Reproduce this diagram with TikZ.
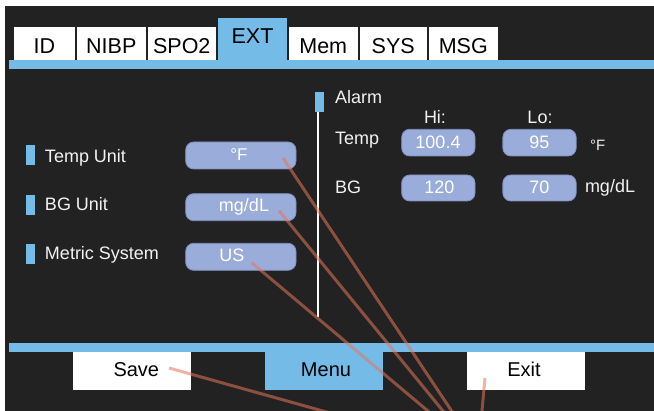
\documentclass[tikz,border=0pt]{standalone}
\usepackage{fontspec}
\setmainfont{Liberation Sans}
\usetikzlibrary{calc}
\definecolor{panel}{HTML}{222222}
\definecolor{accent}{HTML}{74BBE7}
\definecolor{pillfill}{HTML}{9AACD9}
\definecolor{pilledge}{HTML}{7F8FC2}
\definecolor{leader}{RGB}{228,118,92}
\definecolor{lighttext}{HTML}{F2F2F2}
\begin{document}
\begin{tikzpicture}[x=1pt,y=-1pt,
  every node/.style={inner sep=0pt, outer sep=0pt},
  tabbox/.style={fill=white, text=black, minimum height=33pt,
    font=\fontsize{21.5}{21.5}\selectfont, text height=19.4pt, text depth=0pt},
  btn/.style={fill=white, minimum height=38pt},
  btntxt/.style={text=black, font=\fontsize{20}{20}\selectfont},
  marker/.style={fill=accent},
  lbl/.style={text=lighttext, font=\fontsize{18}{18}\selectfont},
  pill/.style={fill=pillfill, draw=pilledge, line width=0.8pt, rounded corners=8pt},
  pilltxt/.style={text=white, font=\fontsize{18}{18}\selectfont},
  divider/.style={draw=white, line width=2.5pt},
  leaderline/.style={draw=leader, line width=3pt, draw opacity=0.55}
]
\useasboundingbox (0,0) rectangle (654,411);
\fill[white] (0,0) rectangle (654,411);

% screen body and the two accent bars
\fill[panel] (5,6) rectangle (654,411);
\fill[accent] (9,60) rectangle (654,69);
\fill[accent] (9,343) rectangle (654,352);

% tab strip
\node[tabbox, minimum width=61pt] (tabID) at (44.5,43.5) {ID};
\node[tabbox, minimum width=68.5pt] (tabNIBP) at (111.25,43.5) {NIBP};
\node[tabbox, minimum width=68.5pt] (tabSPO) at (181.75,43.5) {SPO2};
\node[tabbox, fill=accent, minimum width=69pt, minimum height=42pt,
      text height=15.4pt, text depth=6pt] (tabEXT) at (252.5,39) {EXT};
\node[tabbox, minimum width=68.5pt] (tabMem) at (323.25,43.5) {Mem};
\node[tabbox, minimum width=66.5pt] (tabSYS) at (393.25,43.5) {SYS};
\node[tabbox, minimum width=68.5pt] (tabMSG) at (463.25,43.5) {MSG};

% soft keys
\node[btn, minimum width=118pt] (save) at (132,371) {};
\node[btn, fill=accent, minimum width=117.5pt] (menu) at (323.75,371) {};
\node[btn, minimum width=118pt] (exit) at (526,371) {};
\node[btntxt, anchor=base] (saveTxt) at (136.3,377) {Save};
\node[btntxt, anchor=base] (menuTxt) at (326,377) {Menu};
\node[btntxt, anchor=base] (exitTxt) at (524,377) {Exit};

% unit settings
\node[marker, minimum width=8.5pt, minimum height=20pt] (mTemp) at (30.25,155) {};
\node[marker, minimum width=8.5pt, minimum height=20pt] (mBG) at (30.25,205) {};
\node[marker, minimum width=8.5pt, minimum height=20pt] (mMetric) at (30.25,254) {};
\node[lbl, anchor=base west] (lTempUnit) at (45,162.3) {Temp Unit};
\node[lbl, anchor=base west] (lBGUnit) at (45,211) {BG Unit};
\node[lbl, anchor=base west] (lMetric) at (45,260) {Metric System};

\node[pill, minimum width=110.3pt, minimum height=27pt] (pF) at (240.85,155.5) {};
\node[pill, minimum width=110.3pt, minimum height=27pt] (pMg) at (240.85,207.2) {};
\node[pill, minimum width=110.3pt, minimum height=27pt] (pUS) at (240.85,256.8) {};
\node[pilltxt, anchor=base, font=\fontsize{17}{17}\selectfont] (tF) at (239,160.7) {°F};
\node[pilltxt, anchor=base] (tMg) at (244,211.7) {mg/dL};
\node[pilltxt, anchor=base] (tUS) at (232,261.7) {US};

% alarm limits
\node[marker, minimum width=9pt, minimum height=19.7pt] (mAlarm) at (319.5,101.85) {};
\draw[divider] ($(mAlarm.south west)+(3,0)$) -- ++(0,205);
\node[lbl, anchor=base west] (lAlarm) at (335,104) {Alarm};
\node[lbl, anchor=base] (lHi) at (435,123.3) {Hi:};
\node[lbl, anchor=base] (lLo) at (540,123.3) {Lo:};
\node[lbl, anchor=base west] (lTemp) at (335,145) {Temp};
\node[lbl, anchor=base west] (lBG) at (335,194) {BG};

\node[pill, minimum width=73.3pt, minimum height=26.7pt] (pTHi) at (438.35,142.65) {};
\node[pill, minimum width=73.3pt, minimum height=26.7pt] (pTLo) at (539.5,142.65) {};
\node[pill, minimum width=73.3pt, minimum height=26pt] (pBHi) at (438.35,188) {};
\node[pill, minimum width=73.3pt, minimum height=26pt] (pBLo) at (539.5,188) {};
\node[pilltxt, anchor=base] (vTHi) at (438,149) {100.4};
\node[pilltxt, anchor=base] (vTLo) at (539.3,149) {95};
\node[pilltxt, anchor=base] (vBHi) at (439.3,194) {120};
\node[pilltxt, anchor=base] (vBLo) at (539.3,194) {70};
\node[lbl, anchor=base west, font=\fontsize{15}{15}\selectfont] (uTemp) at (590,150.7) {°F};
\node[lbl, anchor=base west] (uBG) at (585,192.3) {mg/dL};

% callout leaders running off the lower edge
\coordinate (endUS) at (444.6,425);
\coordinate (endMg) at (454.5,425);
\coordinate (endF) at (461,425);
\coordinate (endSave) at (373,425);
\coordinate (endExit) at (480.7,425);
\draw[leaderline] ($(pUS.center)+(10.85,5.9)$) -- (endUS);
\draw[leaderline] ($(pMg.east)+(-17,3.5)$) -- (endMg);
\draw[leaderline] ($(pF.east)+(-13,2.5)$) -- (endF);
\draw[leaderline] ($(save.center)+(37,-3)$) -- (endSave);
\draw[leaderline] ($(exit.center)+(-41,7)$) -- (endExit);
\end{tikzpicture}
\end{document}
